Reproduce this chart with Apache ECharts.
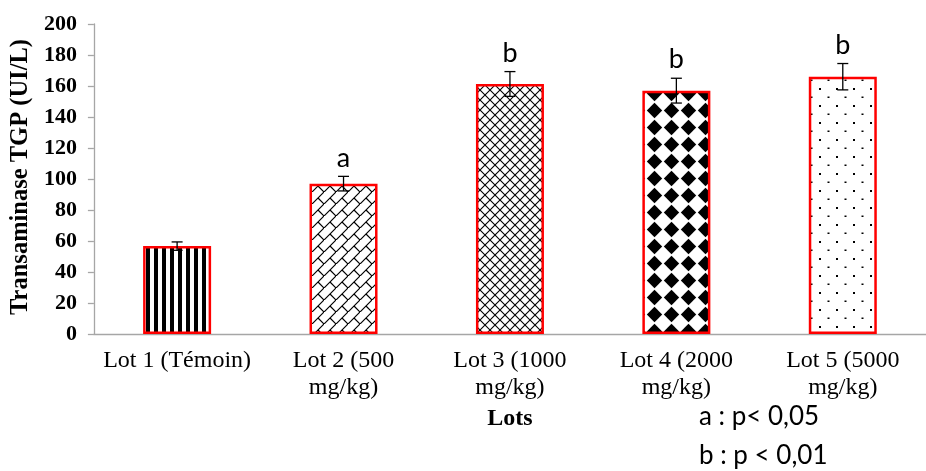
<!DOCTYPE html>
<html>
<head>
<meta charset="utf-8">
<script src="https://cdn.jsdelivr.net/npm/echarts@6/dist/echarts.min.js"></script>
<style>
  html, body { margin: 0; padding: 0; background: #fff; }
  #main { width: 926px; height: 471px; }
</style>
</head>
<body>
<div id="main"></div>
<script>
// données
var lots = ['Lot 1 (Témoin)', 'Lot 2 (500 mg/kg)', 'Lot 3 (1000 mg/kg)', 'Lot 4 (2000 mg/kg)', 'Lot 5 (5000 mg/kg)'];
var tgp = [56.7, 97, 161.3, 157, 166];
var erreur = [2.7, 4.7, 8, 8, 8.5];
var lettres = ['', 'a', 'b', 'b', 'b'];
var notes = ['a : p< 0,05', 'b : p < 0,01'];

var serif = '"Liberation Serif", "Times New Roman", serif';

// motifs de remplissage
function motif(w, h, dessin) {
    var c = document.createElement('canvas');
    c.width = w; c.height = h;
    var ctx = c.getContext('2d');
    ctx.fillStyle = '#fff';
    ctx.fillRect(0, 0, w, h);
    ctx.fillStyle = '#000';
    ctx.strokeStyle = '#000';
    dessin(ctx);
    return { image: c, repeat: 'repeat' };
}

var motifs = [
    // rayures verticales
    motif(8, 8, function (ctx) {
        ctx.fillRect(2, 0, 4, 8);
    }),
    // briques en diagonale
    motif(12, 12, function (ctx) {
        ctx.lineWidth = 1.2;
        ctx.beginPath();
        ctx.moveTo(-1, 13); ctx.lineTo(13, -1);
        ctx.moveTo(6, 6); ctx.lineTo(12, 12);
        ctx.stroke();
    }),
    // treillis
    motif(10, 10, function (ctx) {
        ctx.lineWidth = 1.1;
        ctx.beginPath();
        ctx.moveTo(0, 0); ctx.lineTo(10, 10);
        ctx.moveTo(0, 10); ctx.lineTo(10, 0);
        ctx.stroke();
    }),
    // losanges noirs
    motif(17, 17, function (ctx) {
        ctx.beginPath();
        ctx.moveTo(8.5, 0.8); ctx.lineTo(16.2, 8.5); ctx.lineTo(8.5, 16.2); ctx.lineTo(0.8, 8.5);
        ctx.closePath();
        ctx.fill();
    }),
    // points
    motif(17, 17, function (ctx) {
        ctx.fillRect(3, 3, 2, 2);
        ctx.fillRect(11.5, 11.5, 2, 1.5);
    })
];

var barData = tgp.map(function (v, i) {
    return { value: v, itemStyle: { color: motifs[i] } };
});

var errData = tgp.map(function (v, i) {
    return [i, v - erreur[i], v + erreur[i], lettres[i]];
});

var chart = echarts.init(document.getElementById('main'));

var option = {
    animation: false,
    grid: { left: 93, right: -9, top: 24, bottom: 137, containLabel: false },
    xAxis: {
        type: 'category',
        data: lots,
        name: 'Lots',
        nameLocation: 'middle',
        nameGap: 73,
        nameTextStyle: { fontFamily: serif, fontWeight: 'bold', fontSize: 24, color: '#000' },
        axisLine: { lineStyle: { color: '#A6A6A6', width: 1.3 } },
        axisTick: { length: 6, lineStyle: { color: '#A6A6A6', width: 1.3 } },
        axisLabel: {
            fontFamily: serif, fontSize: 24, color: '#000', margin: 13,
            lineHeight: 27, interval: 0,
            formatter: function (v) { return v.replace(' mg/kg', '\nmg/kg'); }
        }
    },
    yAxis: {
        type: 'value',
        min: 0, max: 200, interval: 20,
        name: 'Transaminase TGP (UI/L)',
        nameLocation: 'middle',
        nameGap: 60,
        nameTextStyle: { fontFamily: serif, fontWeight: 'bold', fontSize: 24.5, color: '#000', padding: [0, 0, 0, 4] },
        axisLine: { show: true, lineStyle: { color: '#A6A6A6', width: 1.3 } },
        axisTick: { show: true, length: 6, lineStyle: { color: '#A6A6A6', width: 1.3 } },
        splitLine: { show: false },
        axisLabel: { fontFamily: serif, fontWeight: 'bold', fontSize: 22, color: '#000', margin: 17 }
    },
    series: [
        {
            type: 'bar',
            data: barData,
            barWidth: 68,
            itemStyle: { borderColor: '#FF0000', borderWidth: 2.5 }
        },
        {
            type: 'custom',
            data: errData,
            z: 10,
            renderItem: function (params, api) {
                var x = api.value(0);
                var bas = api.coord([x, api.value(1)]);
                var haut = api.coord([x, api.value(2)]);
                var demi = 5.5;
                var style = { stroke: '#000', lineWidth: 1.3 };
                return {
                    type: 'group',
                    children: [
                        { type: 'line', shape: { x1: haut[0], y1: haut[1], x2: bas[0], y2: bas[1] }, style: style },
                        { type: 'line', shape: { x1: haut[0] - demi, y1: haut[1], x2: haut[0] + demi, y2: haut[1] }, style: style },
                        { type: 'line', shape: { x1: bas[0] - demi, y1: bas[1], x2: bas[0] + demi, y2: bas[1] }, style: style },
                        {
                            type: 'text',
                            x: haut[0], y: haut[1] - 5,
                            style: {
                                text: api.value(3), fill: '#000',
                                font: '27px Lato, "Open Sans", sans-serif',
                                align: 'center', verticalAlign: 'bottom'
                            }
                        }
                    ]
                };
            }
        }
    ],
    graphic: notes.map(function (t, i) {
        return {
            type: 'text',
            left: 699,
            top: 404 + i * 39,
            style: { text: t, fill: '#000', font: '26px Lato, "Open Sans", sans-serif' }
        };
    })
};

chart.setOption(option);
</script>
</body>
</html>
